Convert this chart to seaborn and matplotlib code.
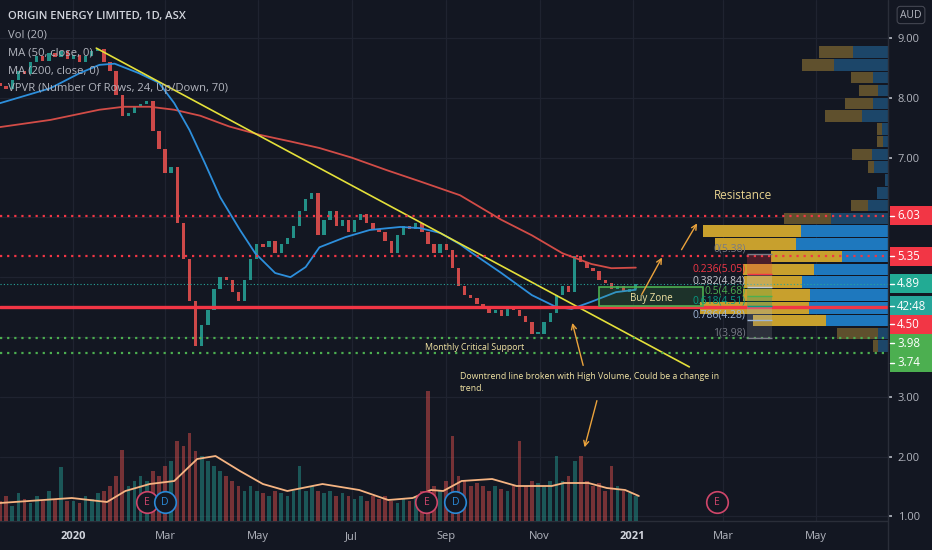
import numpy as np
import pandas as pd
import matplotlib
matplotlib.use("Agg")
import matplotlib.pyplot as plt
import matplotlib.dates as mdates
import matplotlib.transforms as mtrans
from matplotlib.patches import Rectangle
import seaborn as sns

BG = "#131722"
TXT = "#b2b5be"
UP = "#26a69a"
DOWN = "#ef5350"
NOTE = "#f2e4a4"

# price bars, one every 4 calendar days, closes
bar_start = "2019-11-14"
first_open = 8.25
closes = [8.20, 8.15, 8.30, 8.45, 8.40, 8.60, 8.70, 8.62, 8.75, 8.68,
          8.78, 8.65, 8.72, 8.60, 8.70, 8.78, 8.82, 8.60, 8.45, 8.05,
          7.70, 7.75, 7.85, 7.90, 7.95, 7.45, 7.15, 6.75, 6.85, 5.90,
          5.30, 4.60, 3.85, 4.20, 4.45, 4.80, 5.00, 4.95, 4.75, 4.60,
          4.95, 5.30, 5.55, 5.50, 5.60, 5.40, 5.55, 5.65, 5.85, 6.10,
          6.30, 6.40, 5.70, 5.95, 6.10, 5.85, 5.95, 5.75, 5.95, 6.05,
          5.90, 5.80, 5.75, 5.60, 5.40, 5.70, 5.85, 5.80, 5.90, 5.75,
          5.55, 5.40, 5.55, 5.45, 5.15, 4.85, 4.70, 4.65, 4.55, 4.50,
          4.40, 4.45, 4.35, 4.50, 4.45, 4.35, 4.25, 4.05, 4.05, 4.25,
          4.40, 4.70, 4.85, 4.75, 5.35, 5.25, 5.15, 5.10, 4.95, 4.90,
          4.80, 4.85, 4.75, 4.80, 4.89]
volume = [20, 25, 15, 28, 22, 18, 25, 20, 30, 22, 54, 20,
          20, 18, 25, 22, 28, 30, 35, 45,
          71, 35, 40, 45, 40, 50, 45, 55, 60,
          80, 75, 88, 70, 65, 60, 55, 50, 45, 40, 35, 30, 35, 30, 28, 25, 30, 28, 25, 30,
          55, 30, 35, 30, 28, 30, 25, 28, 25, 22, 25, 20, 25, 22, 25, 20, 18, 22, 20, 25, 30,
          130, 35, 30, 40, 85, 45, 40, 35, 38, 35, 30, 35, 32, 30, 35, 80, 35, 40, 38, 35,
          40, 65, 40, 45, 60, 65, 40, 35, 38, 30, 55, 35, 30, 28, 25]

vol_ma_dates = ["2019-11-14", "2019-12-31", "2020-01-23", "2020-02-04", "2020-02-20",
                "2020-03-07", "2020-03-22", "2020-04-03", "2020-04-19", "2020-05-04",
                "2020-05-20", "2020-06-12", "2020-07-06", "2020-07-25", "2020-08-10",
                "2020-08-22", "2020-08-30", "2020-09-11", "2020-10-01", "2020-10-17",
                "2020-11-09", "2020-11-17", "2020-12-03", "2020-12-15", "2020-12-27",
                "2021-01-05"]
vol_ma = [18, 23, 19, 30, 37, 40, 62, 65, 50, 37, 30, 37, 31, 21, 23,
          31, 30, 40, 42, 35, 35, 38, 38, 33, 31, 25]

ma50_dates = ["2019-11-14", "2019-12-17", "2020-01-05", "2020-01-18", "2020-01-28",
              "2020-02-13", "2020-02-26", "2020-03-07", "2020-03-17", "2020-03-27",
              "2020-04-06", "2020-04-19", "2020-04-29", "2020-05-12", "2020-05-22",
              "2020-06-01", "2020-06-10", "2020-06-27", "2020-07-13", "2020-08-02",
              "2020-08-15", "2020-08-28", "2020-09-10", "2020-09-17", "2020-10-07",
              "2020-10-27", "2020-11-12", "2020-11-22", "2020-12-05", "2020-12-21",
              "2021-01-03"]
ma50 = [7.91, 8.16, 8.41, 8.55, 8.57, 8.41, 8.25, 7.91, 7.46, 6.91,
        6.34, 5.79, 5.40, 5.07, 5.00, 5.17, 5.50, 5.67, 5.79, 5.84,
        5.82, 5.74, 5.55, 5.42, 5.07, 4.70, 4.50, 4.47, 4.59, 4.75, 4.79]

ma200_dates = ["2019-11-14", "2019-12-17", "2020-01-18", "2020-02-03", "2020-02-20",
               "2020-03-07", "2020-03-24", "2020-04-12", "2020-05-02", "2020-05-22",
               "2020-06-10", "2020-07-01", "2020-07-24", "2020-08-15", "2020-09-10",
               "2020-10-07", "2020-10-27", "2020-11-16", "2020-12-05", "2020-12-18",
               "2021-01-03"]
ma200 = [7.51, 7.63, 7.80, 7.85, 7.85, 7.80, 7.70, 7.52, 7.38, 7.27,
         7.16, 7.00, 6.79, 6.60, 6.37, 5.96, 5.70, 5.40, 5.22, 5.15, 5.16]

# volume profile, 24 rows from bottom to top
vp_low, vp_high = 3.74, 8.87
vp_up = [10, 10, 62, 79, 78, 86, 74, 46, 92, 87, 57, 20,
         11, 3, 14, 16, 5, 6, 26, 15, 10, 15, 54, 35]
vp_down = [5, 41, 73, 109, 67, 58, 71, 71, 81, 98, 47, 17,
           0, 0, 6, 20, 6, 5, 37, 28, 19, 22, 32, 34]
vp_value_rows = range(2, 10)

# drawn levels
trend_dates = ["2020-01-16", "2021-02-07"]
trend_prices = [8.83, 3.50]
red_dotted = [6.03, 5.35]
green_dotted = [3.98, 3.74]
support_solid = 4.50
last_price = 4.89

fib_labels = ["0", "0.236", "0.382", "0.5", "0.618", "0.786", "1"]
fib_prices = [5.38, 5.05, 4.84, 4.68, 4.51, 4.28, 3.98]
fib_colors = ["#787b86", "#f23645", "#c8cad0", "#4caf50", "#089981", "#9fb6d6", "#787b86"]
fib_span = ["2021-03-17", "2021-04-02"]

buy_zone = ("2020-12-10", "2021-02-16", 4.52, 4.84)

event_dates = ["2020-02-18", "2020-03-01", "2020-08-19", "2020-09-07", "2021-02-25"]
event_kinds = ["E", "D", "E", "D", "E"]

month_ticks = ["2020-01-01", "2020-03-01", "2020-05-01", "2020-07-01", "2020-09-01",
               "2020-11-01", "2021-01-01", "2021-03-01", "2021-05-01"]
month_labels = ["2020", "Mar", "May", "Jul", "Sep", "Nov", "2021", "Mar", "May"]
price_ticks = [1, 2, 3, 7, 8, 9]

sns.set_theme(style="dark", rc={"axes.facecolor": BG, "figure.facecolor": BG,
                                "grid.color": "#1f2330", "text.color": TXT,
                                "xtick.color": TXT, "ytick.color": TXT})
plt.rcParams["font.family"] = ["Open Sans", "DejaVu Sans"]

W, H = 932, 550
fig = plt.figure(figsize=(W / 100, H / 100), dpi=100)
ax = fig.add_axes([0, 29 / H, 888 / W, 521 / H])
ax_vol = ax.twinx()
ax.set_zorder(1)
ax_vol.set_zorder(2)
ax_vol.patch.set_visible(False)

x0, x1 = mdates.date2num(pd.Timestamp("2019-11-14")), mdates.date2num(pd.Timestamp("2021-06-17"))
ax.set_xlim(x0, x1)
ax.set_ylim(0.923, 9.635)
ax_vol.set_ylim(0, 521)

# candles
dates = pd.date_range(bar_start, periods=len(closes), freq="4D")
dnum = mdates.date2num(dates)
c = np.array(closes)
o = np.array([first_open] + closes[:-1])
up = c >= o
bottoms = np.minimum(o, c)
heights = np.maximum(np.abs(c - o), 0.03)
ax.bar(dnum, heights, bottom=bottoms, width=2.2,
       color=np.where(up, UP, DOWN), alpha=0.85, zorder=3, linewidth=0)

# volume
ax_vol.bar(dnum, volume, width=2.4, color=np.where(up, UP, DOWN), alpha=0.45,
           linewidth=0, zorder=2)
sns.lineplot(x=pd.to_datetime(vol_ma_dates), y=vol_ma, ax=ax_vol,
             color="#f6b482", lw=1.3, zorder=3)

# moving averages and trend line
sns.lineplot(x=pd.to_datetime(ma200_dates), y=ma200, ax=ax, color="#d24c47", lw=1.3, zorder=4)
sns.lineplot(x=pd.to_datetime(ma50_dates), y=ma50, ax=ax, color="#2d8fdc", lw=1.3, zorder=4)
sns.lineplot(x=pd.to_datetime(trend_dates), y=trend_prices, ax=ax, color="#e4e03a", lw=1.2, zorder=5)

# volume profile
row_h = (vp_high - vp_low) / len(vp_up)
centers = vp_low + row_h * (np.arange(len(vp_up)) + 0.5)
totals = np.array(vp_up) + np.array(vp_down)
scale = 0.212 * (x1 - x0) / totals.max()
bright = np.isin(np.arange(len(vp_up)), list(vp_value_rows))
up_w = np.array(vp_up) * scale
dn_w = np.array(vp_down) * scale
ax.barh(centers, up_w, left=x1 - up_w, height=row_h * 0.9,
        color=np.where(bright, "#1e78be", "#1c4669"), zorder=2, linewidth=0)
ax.barh(centers, dn_w, left=x1 - up_w - dn_w, height=row_h * 0.9,
        color=np.where(bright, "#c8a02d", "#5f502d"), zorder=2, linewidth=0)

# horizontal levels
for p in red_dotted:
    ax.axhline(p, color="#f23645", lw=1.6, ls=(0, (1, 2.2)), zorder=6)
for p in green_dotted:
    ax.axhline(p, color="#4caf50", lw=1.6, ls=(0, (1, 2.2)), zorder=6)
ax.axhline(support_solid, color="#f23645", lw=2.4, zorder=6)
ax.axhline(last_price, color=UP, lw=0.8, ls=(0, (1, 2)), zorder=6)

# fib retracement
fx0, fx1 = [mdates.date2num(pd.Timestamp(d)) for d in fib_span]
for i in range(len(fib_prices) - 1):
    ax.fill_between([fx0, fx1], fib_prices[i], fib_prices[i + 1],
                    color=fib_colors[i + 1], alpha=0.25, lw=0, zorder=6)
for lab, p, col in zip(fib_labels, fib_prices, fib_colors):
    ax.hlines(p, fx0, fx1, color=col, lw=1, zorder=7)
    ax.text(fx0 - 1, p, f"{lab}({p:.2f})", color=col, ha="right", va="bottom",
            fontsize=7.5, zorder=8)

# buy zone
bz0, bz1 = [mdates.date2num(pd.Timestamp(d)) for d in buy_zone[:2]]
ax.add_patch(Rectangle((bz0, buy_zone[2]), bz1 - bz0, buy_zone[3] - buy_zone[2],
                       fc=(0.30, 0.69, 0.31, 0.18), ec="#4caf50", lw=1.2, zorder=7))
ax.text((bz0 + bz1) / 2, (buy_zone[2] + buy_zone[3]) / 2 - 0.03, "Buy Zone",
        color=NOTE, fontsize=7, ha="center", va="center", zorder=8)

# notes and arrows
def d(s):
    return mdates.date2num(pd.Timestamp(s))

arrows = [(("2021-01-06", 4.67), ("2021-01-21", 5.37)),
          (("2021-02-01", 5.42), ("2021-02-13", 5.94)),
          (("2020-11-30", 3.48), ("2020-11-22", 4.28)),
          (("2020-12-09", 2.98), ("2020-11-30", 2.11))]
for (ts, tp), (hs, hp) in arrows:
    ax.annotate("", xy=(d(hs), hp), xytext=(d(ts), tp), zorder=9,
                arrowprops=dict(arrowstyle="->", color="#eba33c", lw=1, mutation_scale=9))

ax.text(d("2021-03-14"), 6.37, "Resistance", color="#e8d38f", fontsize=8.5,
        ha="center", va="center", zorder=9)
ax.text(d("2020-08-18"), 3.83, "Monthly Critical Support", color=NOTE, fontsize=6.3,
        ha="left", va="center", zorder=9)
ax.text(d("2020-09-10"), 3.42, "Downtrend line broken with High Volume, Could be a change in\ntrend.",
        color=NOTE, fontsize=6.3, ha="left", va="top", linespacing=1.5, zorder=9)

# earnings / dividend markers
ev_tr = mtrans.blended_transform_factory(ax_vol.transData, ax_vol.transAxes)
for ds, k in zip(event_dates, event_kinds):
    col = "#d0466a" if k == "E" else "#2a8ad8"
    ax_vol.plot(d(ds), 0.036, marker="o", ms=15.5, mfc=BG, mec=col, mew=1.2,
                transform=ev_tr, zorder=8, clip_on=False)
    ax_vol.text(d(ds), 0.036, k, color=col, fontsize=7.5, ha="center", va="center",
                transform=ev_tr, zorder=9)

# axes styling
for a in (ax, ax_vol):
    for s in a.spines.values():
        s.set_visible(False)
    a.set_xlabel("")
    a.set_ylabel("")
ax_vol.set_yticks([])
ax.yaxis.tick_right()
ax.set_yticks(price_ticks)
ax.set_yticklabels([f"{v:.2f}" for v in price_ticks])
ax.tick_params(axis="y", length=3, pad=4, labelsize=8, colors=TXT, direction="out")
ax.set_xticks([d(s) for s in month_ticks])
ax.set_xticklabels(month_labels)
ax.tick_params(axis="x", length=0, pad=7, labelsize=8, colors=TXT)
for lab in ax.get_xticklabels():
    if lab.get_text() in ("2020", "2021"):
        lab.set_fontweight("bold")
        lab.set_color("#d1d4dc")
ax.grid(True, color="#1f2330", lw=0.9)
for p in (4, 5, 6):
    ax.axhline(p, color="#1f2330", lw=0.9, zorder=0)
ax.set_axisbelow(True)
fig.add_artist(plt.Line2D([888 / W, 888 / W], [0, 1], color="#2a2e39", lw=1))
fig.add_artist(plt.Line2D([0, 888 / W], [29 / H, 29 / H], color="#2a2e39", lw=1))

# price labels on the right scale
def py(price):
    return H - ax.transData.transform((x0, price))[1]

def tag(y, text, color, h=19):
    fig.add_artist(Rectangle((890 / W, 1 - (y + h / 2) / H), 42 / W, h / H,
                             transform=fig.transFigure, fc=color, ec="none", zorder=10))
    fig.add_artist(plt.Line2D([890 / W, 894 / W], [1 - y / H, 1 - y / H],
                              color="white", lw=1, zorder=11))
    fig.text(897 / W, 1 - y / H, text, color="white", fontsize=8.3, va="center", zorder=11)

fig.add_artist(Rectangle((890 / W, 1 - (py(3.74) + 19.5) / H), 42 / W,
                         (py(3.74) - py(3.98) + 24) / H, transform=fig.transFigure,
                         fc="#4caf50", ec="none", zorder=10))
tag(py(6.03), "6.03", "#f23645")
tag(py(5.35), "5.35", "#f23645")
tag(py(4.89), "4.89", "#22ab94")
tag(py(4.50) - 1, "42:48", "#26a69a", h=21)
tag(py(4.50) + 17, "4.50", "#f23645")
tag(py(3.98) + 5, "3.98", "#4caf50")
tag(py(3.74) + 10, "3.74", "#4caf50")

fig.text(911 / W, 1 - 15 / H, "AUD", color=TXT, fontsize=7.5, ha="center", va="center",
         bbox=dict(boxstyle="round,pad=0.3", fc=BG, ec="#434651", lw=0.8))

# legend block
fig.text(8 / W, 1 - 16 / H, "ORIGIN ENERGY LIMITED, 1D, ASX", color="#d1d4dc",
         fontsize=8.1, fontweight="semibold", va="center")
for i, s in enumerate(["Vol (20)", "MA (50, close, 0)", "MA (200, close, 0)",
                       "VPVR (Number Of Rows, 24, Up/Down, 70)"]):
    fig.text(8 / W, 1 - (35 + 18 * i) / H, s, color=TXT, fontsize=8.1, va="center")

fig.savefig("out.png", dpi=100, facecolor=BG)
